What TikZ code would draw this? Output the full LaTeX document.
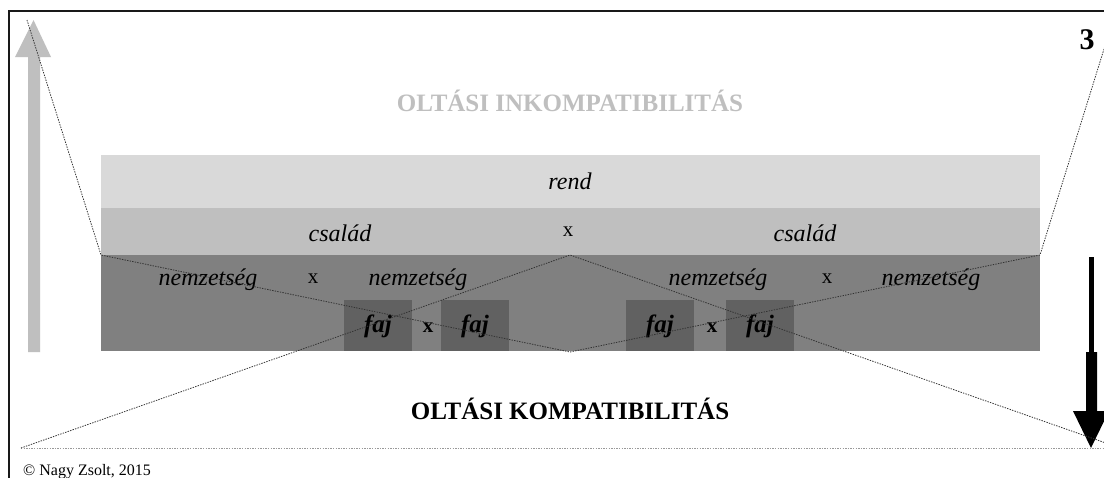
\documentclass[tikz,border=0pt]{standalone}
\usepackage{fontspec}
\setmainfont{Liberation Serif}
\begin{document}
\begin{tikzpicture}[x=1pt,y=-1pt,
  dotline/.style={draw=black!80, line width=0.8pt, dash pattern=on 1.4pt off 1.2pt},
  lightdot/.style={draw=black!40, line width=0.8pt, dash pattern=on 1.4pt off 1.2pt},
  lbl/.style={inner sep=0pt, font=\fontsize{24}{26}\selectfont\itshape},
  xlbl/.style={inner sep=0pt, font=\fontsize{21}{23}\selectfont},
  fajlbl/.style={inner sep=0pt, font=\fontsize{25}{27}\selectfont\bfseries\itshape},
  fajx/.style={inner sep=0pt, font=\fontsize{21}{23}\selectfont\bfseries},
  title/.style={inner sep=0pt, font=\fontsize{25}{27}\selectfont\bfseries}]
\useasboundingbox (0,0) rectangle (1104,477);
\clip (0,0) rectangle (1104,477);
\fill[white] (0,0) rectangle (1104,477);
% frame
\draw[line width=2.2pt, black!90] (9,480) -- (9,11) -- (1110,11);
% bands
\fill[black!15] (101,155) rectangle (1040,208);
\fill[black!25] (101,208) rectangle (1040,255);
\fill[black!50] (101,255) rectangle (1040,351);
\fill[black!62] (344,300) rectangle (412,351);
\fill[black!62] (441,300) rectangle (509,351);
\fill[black!62] (626,300) rectangle (694,351);
\fill[black!62] (726,300) rectangle (794,351);
% arrows
\fill[black!25] (28,352) -- (28,57) -- (15,57) -- (33.5,20) -- (51,57) -- (40,57) -- (40,352) -- cycle;
\fill[black] (1089,257) rectangle (1094,353);
\fill[black] (1086,352) -- (1086,411) -- (1073,411) -- (1091,448) -- (1109,411) -- (1097,411) -- (1097,352) -- cycle;
% coordinates
\coordinate (tl) at (27,20);
\coordinate (tr) at (1113,20);
\coordinate (nl) at (101,255);
\coordinate (nr) at (1040,255);
\coordinate (nt) at (570,255);
\coordinate (nb) at (570,352);
\coordinate (bl) at (21,448);
\coordinate (br) at (1120,448);
\coordinate (be) at (1104,448);
% texts
\node[lbl] (rend) at (570,181) {rend};
\node[lbl] (csal1) at (340,233) {család};
\node[xlbl] (x1) at (568,232) {x};
\node[lbl] (csal2) at (805,233) {család};
\node[lbl] (n1) at (208,280) {nemzetség};
\node[xlbl] (x2) at (313,279) {x};
\node[lbl] (n2) at (418,280) {nemzetség};
\node[lbl] (n3) at (718,280) {nemzetség};
\node[xlbl] (x3) at (827,279) {x};
\node[lbl] (n4) at (931,280) {nemzetség};
\node[fajlbl] (f1) at (378,326) {faj};
\node[fajx] (fx1) at (428,328) {x};
\node[fajlbl] (f2) at (475,326) {faj};
\node[fajlbl] (f3) at (660,326) {faj};
\node[fajx] (fx2) at (712,328) {x};
\node[fajlbl] (f4) at (760,326) {faj};
\node[title, text=black!25] (inc) at (570,101) {OLTÁSI INKOMPATIBILITÁS};
\node[title] (comp) at (570,409) {OLTÁSI KOMPATIBILITÁS};
\node[inner sep=0pt, font=\fontsize{30}{32}\selectfont\bfseries] (three) at (1087,40) {3};
\node[inner sep=0pt, anchor=base west, font=\fontsize{16}{18}\selectfont] (copy) at (23,475) {© Nagy Zsolt, 2015};
% dotted lines
\draw[lightdot] (bl) -- (be);
\draw[dotline] (tl) -- (nl) -- (nb) -- (nr) -- (tr);
\draw[dotline] (bl) -- (nt) -- (br);
\end{tikzpicture}
\end{document}
